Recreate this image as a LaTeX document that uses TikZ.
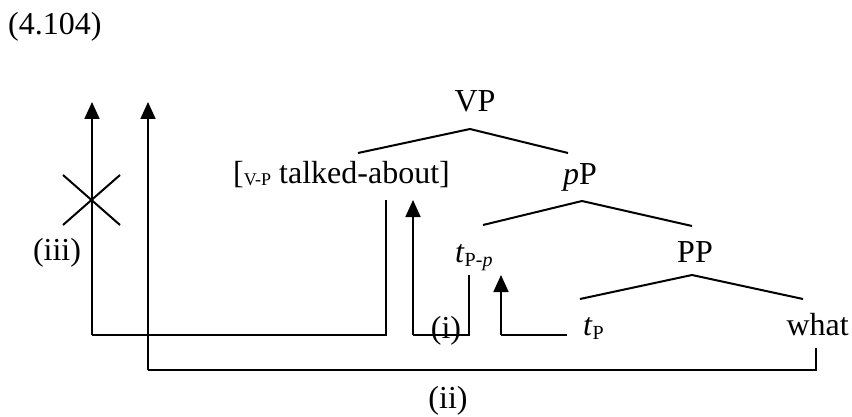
\documentclass[tikz,border=0pt]{standalone}
\usepackage{fontspec}
\setmainfont{Liberation Serif}
\usetikzlibrary{arrows.meta}
\newcommand{\sbs}[1]{\raisebox{-4pt}{\fontsize{20}{20}\selectfont #1}}
\begin{document}
\begin{tikzpicture}[x=1pt,y=-1pt,
  lbl/.style={inner sep=0pt,anchor=base,font=\fontsize{32}{36}\selectfont},
  branch/.style={line width=2pt},
  mv/.style={line width=1.8pt,-{Triangle[length=17pt,width=15pt]}},
  thin/.style={line width=1.4pt}]
\useasboundingbox (0,0) rectangle (852,417);
% labels
\node[lbl,anchor=base west] (eq) at (8,35) {(4.104)};
\node[lbl] (VP) at (475,112) {VP};
\node[lbl,anchor=base west] (V) at (233,183) {[\raisebox{-2pt}{\fontsize{18}{18}\selectfont V-P} talked-about]};
\node[lbl] (pP) at (580,185) {\textit{p}P};
\node[lbl,anchor=base west] (tPp) at (455,262) {\textit{t}\sbs{P-\textit{p}}};
\node[lbl] (PP) at (695,262) {PP};
\node[lbl,anchor=base west] (tP) at (583,335) {\textit{t}\sbs{P}};
\node[lbl,anchor=base east] (what) at (849,335) {what};
\node[lbl] (liii) at (57,260) {(iii)};
\node[lbl] (li) at (446,338) {(i)};
\node[lbl] (lii) at (448,408) {(ii)};
% tree branches
\coordinate (vpa) at (470,129);
\coordinate (vpl) at (358,153);
\coordinate (vpr) at (568,153);
\coordinate (ppa) at (582,201);
\coordinate (ppl) at (483,225);
\coordinate (ppr) at (692,226);
\coordinate (pa) at (692,275);
\coordinate (pl) at (580,299);
\coordinate (pr) at (803,299);
\draw[branch] (vpl) -- (vpa) -- (vpr);
\draw[branch] (ppl) -- (ppa) -- (ppr);
\draw[branch] (pl) -- (pa) -- (pr);
% movement paths
\coordinate (iiiS) at (386,200);
\coordinate (iiiC1) at (386,335);
\coordinate (iiiC2) at (92,335);
\coordinate (iiiT) at (92,102);
\draw[thin] (iiiS) -- (iiiC1) -- (iiiC2);
\draw[mv] (iiiC2) -- (iiiT);
\coordinate (x1) at (63,175);
\coordinate (x2) at (120,225);
\coordinate (x3) at (63,225);
\coordinate (x4) at (120,175);
\draw[branch] (x1) -- (x2);
\draw[branch] (x3) -- (x4);
\coordinate (iiS) at (816,348);
\coordinate (iiC1) at (816,370);
\coordinate (iiC2) at (148,370);
\coordinate (iiT) at (148,102);
\draw[thin] (iiS) -- (iiC1) -- (iiC2);
\draw[mv] (iiC2) -- (iiT);
\coordinate (iS) at (469,275);
\coordinate (iC1) at (469,335);
\coordinate (iC2) at (413,335);
\coordinate (iT) at (413,200);
\draw[thin] (iS) -- (iC1) -- (iC2);
\draw[mv] (iC2) -- (iT);
\coordinate (vS) at (567,335);
\coordinate (vC) at (501,335);
\coordinate (vT) at (501,275);
\draw[thin] (vS) -- (vC);
\draw[mv] (vC) -- (vT);
\end{tikzpicture}
\end{document}
